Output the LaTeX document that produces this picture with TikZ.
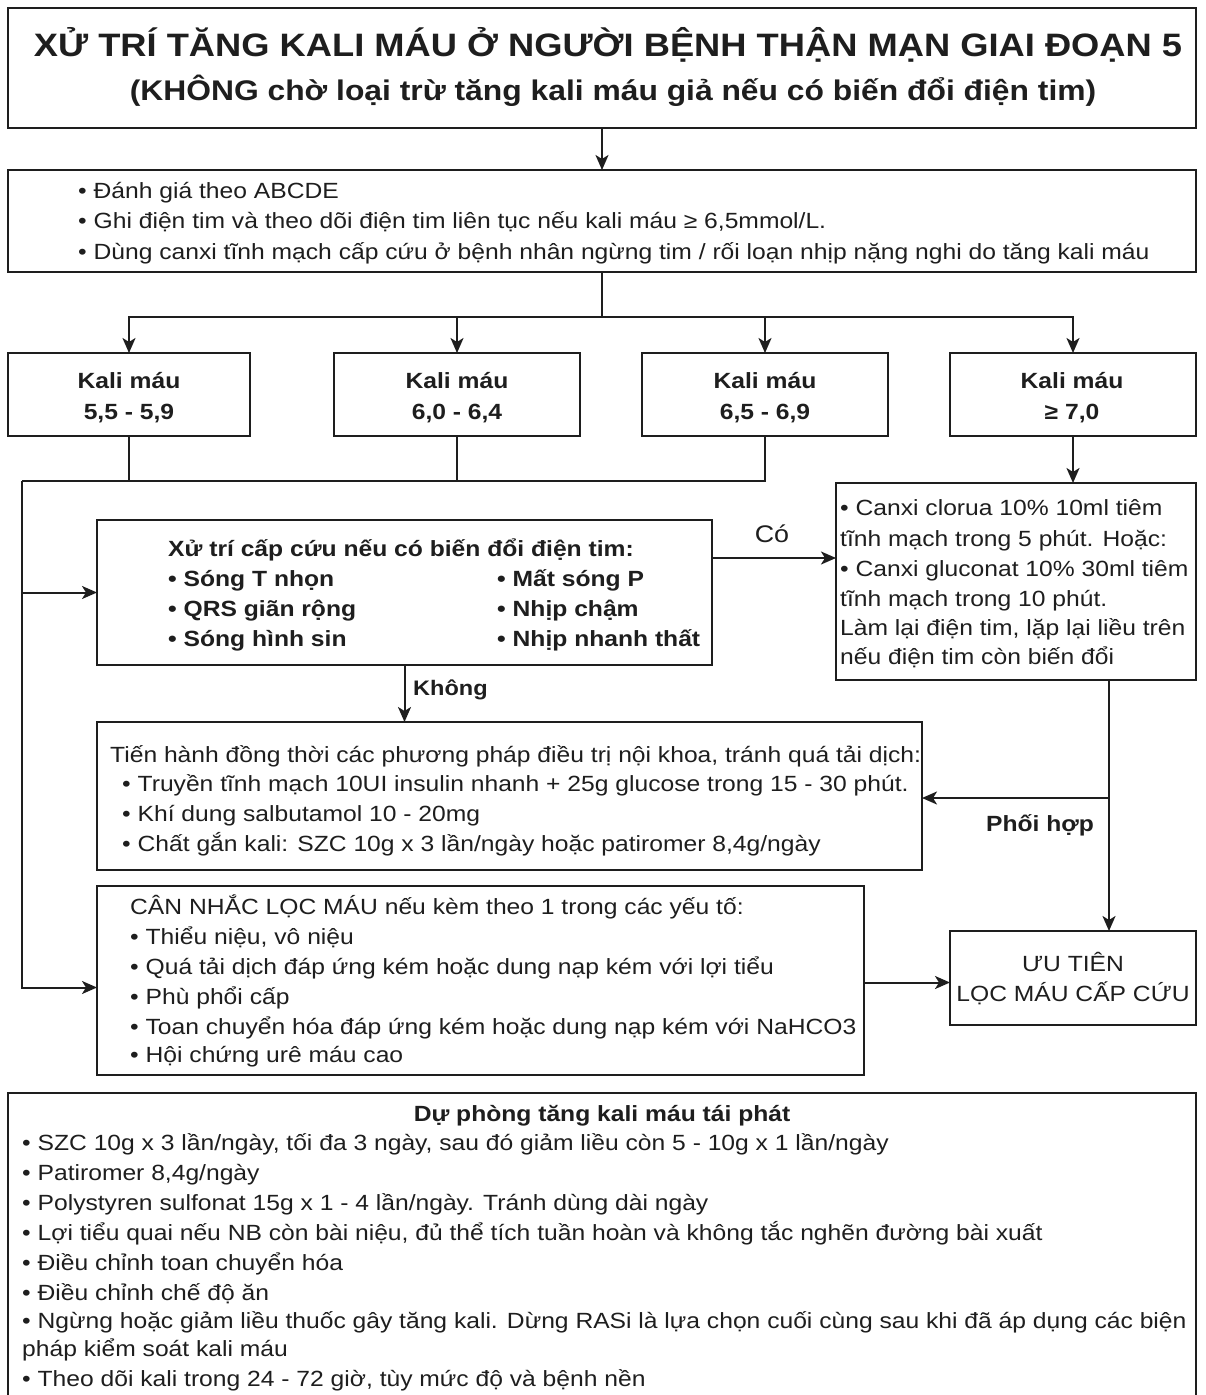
\documentclass[tikz,border=0pt]{standalone}
\usepackage{fontspec}
\setmainfont{Liberation Sans}[FakeStretch=1.12]
\usetikzlibrary{arrows.meta}
\definecolor{ink}{HTML}{1E1E1E}
\tikzset{
  box/.style={draw=ink, line width=2pt, anchor=north west, inner sep=0pt, outer sep=0pt},
  ln/.style={draw=ink, line width=2pt},
  arr/.style={draw=ink, line width=2pt, -{Stealth[length=15pt,width=13pt,inset=4pt]}},
  tx/.style={anchor=base west, inner sep=0pt, text=ink, font=\fontsize{22}{26}\selectfont},
  tc/.style={anchor=base, inner sep=0pt, text=ink, font=\fontsize{22}{26}\selectfont},
  bf/.style={font=\fontsize{22}{26}\selectfont\bfseries},
}
\begin{document}
\begin{tikzpicture}[x=1pt,y=-1pt]
\useasboundingbox (0,0) rectangle (1205,1395);
\fill[white] (0,0) rectangle (1205,1395);
% boxes
\node[box, minimum width=1188pt, minimum height=120pt] (title) at (8,8) {};
\node[box, minimum width=1188pt, minimum height=102pt] (assess) at (8,170) {};
\node[box, minimum width=242pt, minimum height=83pt] (k1) at (8,353) {};
\node[box, minimum width=246pt, minimum height=83pt] (k2) at (334,353) {};
\node[box, minimum width=246pt, minimum height=83pt] (k3) at (642,353) {};
\node[box, minimum width=246pt, minimum height=83pt] (k4) at (950,353) {};
\node[box, minimum width=360pt, minimum height=197pt] (canxi) at (836,483) {};
\node[box, minimum width=615pt, minimum height=145pt] (ecg) at (97,520) {};
\node[box, minimum width=825pt, minimum height=148pt] (med) at (97,722) {};
\node[box, minimum width=767pt, minimum height=189pt] (loc) at (97,886) {};
\node[box, minimum width=246pt, minimum height=94pt] (uu) at (950,931) {};
\node[box, minimum width=1188pt, minimum height=330pt] (prev) at (8,1093) {};

% title
\node[tc, font=\fontsize{32.4}{36}\selectfont\bfseries] (tt1) at (608,56) {XỬ TRÍ TĂNG KALI MÁU Ở NGƯỜI BỆNH THẬN MẠN GIAI ĐOẠN 5};
\node[tc, font=\fontsize{28.4}{32}\selectfont\bfseries] (tt2) at (613,100) {(KHÔNG chờ loại trừ tăng kali máu giả nếu có biến đổi điện tim)};

% assessment
\node[tx] (a1) at (78,198) {• Đánh giá theo ABCDE};
\node[tx] (a2) at (78,228) {• Ghi điện tim và theo dõi điện tim liên tục nếu kali máu ≥ 6,5mmol/L.};
\node[tx] (a3) at (78,259) {• Dùng canxi tĩnh mạch cấp cứu ở bệnh nhân ngừng tim / rối loạn nhịp nặng nghi do tăng kali máu};

% kali boxes
\node[tc,bf] (k1a) at (129,388) {Kali máu};
\node[tc,bf] (k1b) at (129,419) {5,5 - 5,9};
\node[tc,bf] (k2a) at (457,388) {Kali máu};
\node[tc,bf] (k2b) at (457,419) {6,0 - 6,4};
\node[tc,bf] (k3a) at (765,388) {Kali máu};
\node[tc,bf] (k3b) at (765,419) {6,5 - 6,9};
\node[tc,bf] (k4a) at (1072,388) {Kali máu};
\node[tc,bf] (k4b) at (1072,419) {≥ 7,0};

% ECG box
\node[tx,bf] (e0) at (168,556) {Xử trí cấp cứu nếu có biến đổi điện tim:};
\node[tx,bf] (e1) at (168,586) {• Sóng T nhọn};
\node[tx,bf] (e2) at (168,616) {• QRS giãn rộng};
\node[tx,bf] (e3) at (168,646) {• Sóng hình sin};
\node[tx,bf] (e4) at (497,586) {• Mất sóng P};
\node[tx,bf] (e5) at (497,616) {• Nhịp chậm};
\node[tx,bf] (e6) at (497,646) {• Nhịp nhanh thất};

% canxi box
\node[tx] (c1) at (840,515) {• Canxi clorua 10\% 10ml tiêm};
\node[tx] (c2) at (840,546) {tĩnh mạch trong 5 phút. Hoặc:};
\node[tx] (c3) at (840,576) {• Canxi gluconat 10\% 30ml tiêm};
\node[tx] (c4) at (840,606) {tĩnh mạch trong 10 phút.};
\node[tx] (c5) at (840,635) {Làm lại điện tim, lặp lại liều trên};
\node[tx] (c6) at (840,664) {nếu điện tim còn biến đổi};

% medical box
\node[tx] (m0) at (110,762) {Tiến hành đồng thời các phương pháp điều trị nội khoa, tránh quá tải dịch:};
\node[tx] (m1) at (122,791) {• Truyền tĩnh mạch 10UI insulin nhanh + 25g glucose trong 15 - 30 phút.};
\node[tx] (m2) at (122,821) {• Khí dung salbutamol 10 - 20mg};
\node[tx] (m3) at (122,851) {• Chất gắn kali: SZC 10g x 3 lần/ngày hoặc patiromer 8,4g/ngày};

% dialysis box
\node[tx] (l0) at (130,914) {CÂN NHẮC LỌC MÁU nếu kèm theo 1 trong các yếu tố:};
\node[tx] (l1) at (130,944) {• Thiểu niệu, vô niệu};
\node[tx] (l2) at (130,974) {• Quá tải dịch đáp ứng kém hoặc dung nạp kém với lợi tiểu};
\node[tx] (l3) at (130,1004) {• Phù phổi cấp};
\node[tx] (l4) at (130,1034) {• Toan chuyển hóa đáp ứng kém hoặc dung nạp kém với NaHCO3};
\node[tx] (l5) at (130,1062) {• Hội chứng urê máu cao};

% priority box
\node[tc] (u1) at (1073,971) {ƯU TIÊN};
\node[tc] (u2) at (1073,1001) {LỌC MÁU CẤP CỨU};

% prevention box
\node[tc,bf] (p0) at (602,1121) {Dự phòng tăng kali máu tái phát};
\node[tx] (p1) at (22,1150) {• SZC 10g x 3 lần/ngày, tối đa 3 ngày, sau đó giảm liều còn 5 - 10g x 1 lần/ngày};
\node[tx] (p2) at (22,1180) {• Patiromer 8,4g/ngày};
\node[tx] (p3) at (22,1210) {• Polystyren sulfonat 15g x 1 - 4 lần/ngày. Tránh dùng dài ngày};
\node[tx] (p4) at (22,1240) {• Lợi tiểu quai nếu NB còn bài niệu, đủ thể tích tuần hoàn và không tắc nghẽn đường bài xuất};
\node[tx] (p5) at (22,1270) {• Điều chỉnh toan chuyển hóa};
\node[tx] (p6) at (22,1300) {• Điều chỉnh chế độ ăn};
\node[tx] (p7) at (22,1328) {• Ngừng hoặc giảm liều thuốc gây tăng kali. Dừng RASi là lựa chọn cuối cùng sau khi đã áp dụng các biện};
\node[tx] (p8) at (22,1356) {pháp kiểm soát kali máu};
\node[tx] (p9) at (22,1386) {• Theo dõi kali trong 24 - 72 giờ, tùy mức độ và bệnh nền};

% connectors
\draw[arr] (title.south) -- (assess.north);
\coordinate (split) at (602,317);
\draw[ln] (assess.south) -- (split);
\draw[arr] (split) -| (k1.north);
\draw[arr] (split) -| (k2.north);
\draw[arr] (split) -| (k3.north);
\draw[arr] (split) -| (k4.north);

\coordinate (bus) at (22,481);
\draw[ln] (k3.south) |- (bus);
\draw[ln] (k1.south) -- (k1.south |- bus);
\draw[ln] (k2.south) -- (k2.south |- bus);
\draw[arr] (bus) |- (ecg.west);
\draw[arr] (bus) |- ([yshift=-7pt]loc.west);

\draw[arr] (k4.south) -- (k4.south |- canxi.north);

\coordinate (co) at (712,558);
\draw[arr] (co) -- (co -| canxi.west);
\node[tc,font=\fontsize{24}{28}\selectfont] (colbl) at (772,542) {Có};

\draw[arr] (ecg.south) -- (ecg.south |- med.north);
\node[tx,font=\fontsize{21}{25}\selectfont\bfseries] (kolbl) at (413,695) {Không};

\coordinate (cx) at (1109,680);
\draw[arr] (cx) -- (cx |- uu.north);
\draw[arr] (cx |- 0,798) -- (med.east |- 0,798);
\node[tc,bf] (phlbl) at (1040,831) {Phối hợp};

\draw[arr] ([yshift=-2pt]loc.east) -- ([yshift=-2pt]loc.east -| uu.west);
\end{tikzpicture}
\end{document}
